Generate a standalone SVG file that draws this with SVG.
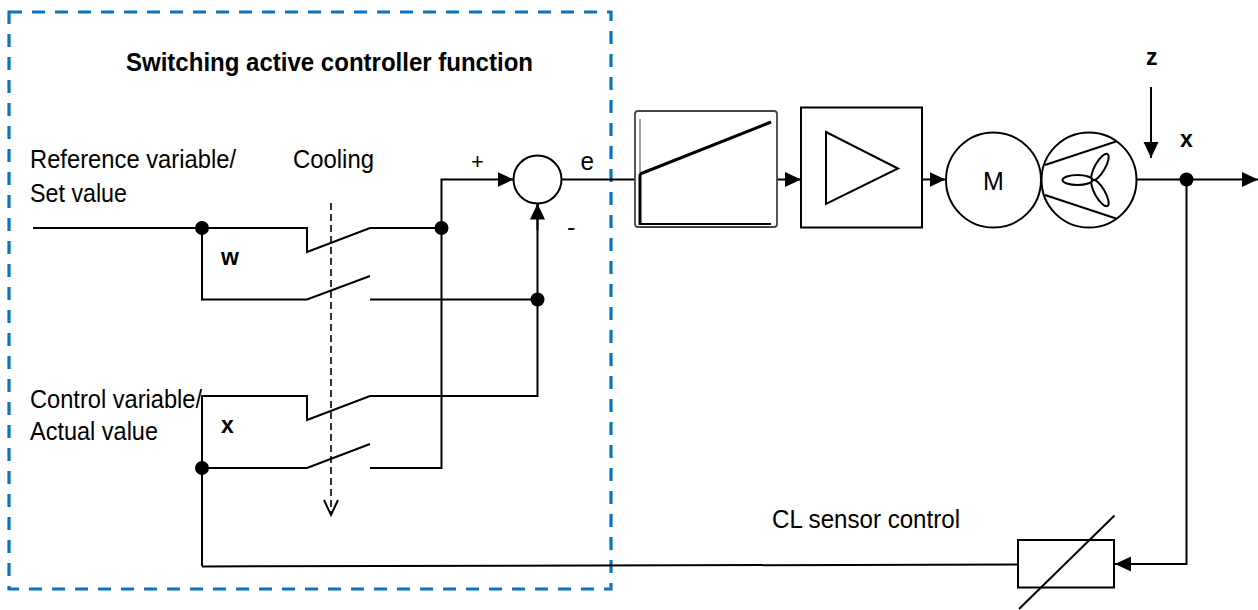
<svg xmlns="http://www.w3.org/2000/svg" width="1258" height="610" viewBox="0 0 1258 610">
<defs>
<marker id="arr" markerUnits="userSpaceOnUse" markerWidth="17" markerHeight="16" refX="16" refY="7.5" orient="auto">
<path d="M0,0 L16,7.5 L0,15 z" fill="#000"/>
</marker>
<style>
.t{font-family:"Liberation Sans",Arial,sans-serif;font-size:25px;fill:#000}
.b{font-family:"Liberation Sans",Arial,sans-serif;font-size:23px;font-weight:bold;fill:#000}
.ln{fill:none;stroke:#000;stroke-width:2}
.dot{fill:#000}
.blk{fill:#fff;stroke:#000;stroke-width:2}
</style>
</defs>
<rect width="1258" height="610" fill="#fff"/>

<g id="controller-frame">
<rect x="9" y="12" width="602" height="577" fill="none" stroke="#0C73BF" stroke-width="3.2" stroke-dasharray="13,10"/>
<text class="t" x="126" y="71" style="font-weight:bold" textLength="407" lengthAdjust="spacingAndGlyphs">Switching active controller function</text>
</g>

<g id="labels">
<text class="t" x="30" y="168" textLength="206" lengthAdjust="spacingAndGlyphs">Reference variable/</text>
<text class="t" x="30" y="202" textLength="97" lengthAdjust="spacingAndGlyphs">Set value</text>
<text class="t" x="293" y="168" textLength="81" lengthAdjust="spacingAndGlyphs">Cooling</text>
<text class="t" x="30" y="408" textLength="172" lengthAdjust="spacingAndGlyphs">Control variable/</text>
<text class="t" x="30" y="440" textLength="128" lengthAdjust="spacingAndGlyphs">Actual value</text>
<text class="b" x="221" y="265">w</text>
<text class="b" x="221" y="433">x</text>
<text class="t" x="471" y="169" style="font-size:22px">+</text>
<text class="t" x="580.5" y="169.5" style="font-size:26px" textLength="13.5" lengthAdjust="spacingAndGlyphs">e</text>
<text class="t" x="567" y="236">-</text>
<text class="b" x="1146" y="65">z</text>
<text class="b" x="1180" y="147">x</text>
<text class="t" x="772" y="528" textLength="188" lengthAdjust="spacingAndGlyphs">CL sensor control</text>
</g>

<g id="connectors">
<!-- w input and switches -->
<polyline class="ln" points="33,228 307,228 307,252 370,228 441.5,228"/>
<polyline class="ln" points="202,228 202,299.5 307,299.5 370,276"/>
<polyline class="ln" points="370,299.5 537.5,299.5"/>
<!-- x input and switches -->
<polyline class="ln" points="202,566 202,396 307,396 307,420 370,396 537.5,396 537.5,204"/>
<polyline class="ln" points="202,468 307,468 370,444"/>
<polyline class="ln" points="370,468 441.5,468 441.5,179.5 513.5,179.5" marker-end="url(#arr)"/>
<line class="ln" x1="537.5" y1="230" x2="537.5" y2="203.5" marker-end="url(#arr)"/>
<!-- cooling dashed -->
<line x1="331" y1="203" x2="331" y2="514" stroke="#000" stroke-width="1.6" stroke-dasharray="7,4"/>
<polyline class="ln" points="324,500 331,515 338,500"/>
<!-- forward path -->
<line class="ln" x1="561.5" y1="179.5" x2="635" y2="179.5"/>
<line class="ln" x1="777" y1="179.5" x2="801" y2="179.5" marker-end="url(#arr)"/>
<line class="ln" x1="922" y1="179.5" x2="945.5" y2="179.5" marker-end="url(#arr)"/>
<line class="ln" x1="1137" y1="179.5" x2="1258" y2="179.5" marker-end="url(#arr)"/>
<line class="ln" x1="1151" y1="87" x2="1151" y2="158" marker-end="url(#arr)"/>
<!-- feedback -->
<polyline class="ln" points="1186.5,179.5 1186.5,564 1115,564" marker-end="url(#arr)"/>
<line class="ln" x1="202" y1="566.5" x2="1018" y2="564.5"/>
<circle class="dot" cx="202" cy="228" r="7"/>
<circle class="dot" cx="441.5" cy="228" r="7"/>
<circle class="dot" cx="537.5" cy="299.5" r="7"/>
<circle class="dot" cx="202" cy="468" r="7"/>
<circle class="dot" cx="1186.5" cy="179.5" r="7"/>
</g>

<g id="summing-junction">
<circle cx="537.5" cy="179.5" r="24" fill="#fff" stroke="#000" stroke-width="2"/>
</g>

<g id="ramp-block">
<rect x="635" y="111" width="142" height="116" rx="3" fill="#fff" stroke="#444" stroke-width="1.8"/>
<line x1="640" y1="119" x2="640" y2="174" stroke="#666" stroke-width="1.2"/>
<line x1="640" y1="174" x2="640" y2="225" stroke="#000" stroke-width="3"/>
<line x1="640" y1="224" x2="771" y2="224" stroke="#000" stroke-width="2"/>
<line x1="640" y1="174" x2="771" y2="122" stroke="#000" stroke-width="3"/>
</g>

<g id="amplifier">
<rect class="blk" x="801" y="107.5" width="121" height="120"/>
<polygon points="826,132 898,168.5 826,204" fill="none" stroke="#000" stroke-width="2"/>
</g>

<g id="motor">
<circle cx="993.5" cy="180" r="47.5" fill="#fff" stroke="#000" stroke-width="2"/>
<text class="t" x="993.5" y="190" text-anchor="middle">M</text>
</g>

<g id="fan">
<circle cx="1089" cy="180" r="47.5" fill="#fff" stroke="#000" stroke-width="2"/>
<line x1="1045" y1="165" x2="1116" y2="141.5" stroke="#000" stroke-width="2"/>
<line x1="1045" y1="195" x2="1116" y2="218.5" stroke="#000" stroke-width="2"/>
<g fill="none" stroke="#000" stroke-width="2">
<ellipse cx="1077.5" cy="180" rx="15" ry="5" transform="rotate(0 1092.5 180)"/>
<ellipse cx="1077.5" cy="180" rx="15" ry="5" transform="rotate(120 1092.5 180)"/>
<ellipse cx="1077.5" cy="180" rx="15" ry="5" transform="rotate(240 1092.5 180)"/>
</g>
</g>

<g id="sensor">
<rect class="blk" x="1018" y="540" width="96" height="47.5"/>
<line x1="1019" y1="609" x2="1114.5" y2="515.5" stroke="#000" stroke-width="2"/>
</g>
</svg>
